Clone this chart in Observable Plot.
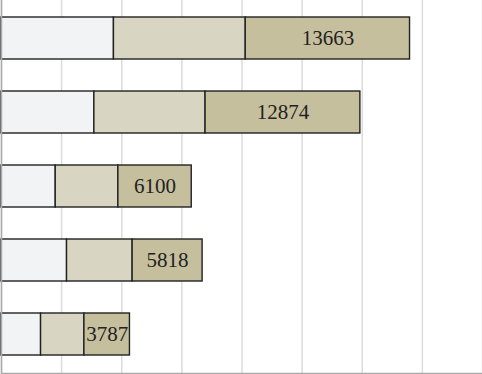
<!DOCTYPE html>
<html>
<head>
<meta charset="utf-8">
<script src="https://cdn.jsdelivr.net/npm/d3@7"></script>
<script src="https://cdn.jsdelivr.net/npm/@observablehq/plot@0.6"></script>
<style>
  html, body { margin: 0; padding: 0; background: #fff; overflow: hidden; }
  svg { display: block; }
</style>
</head>
<body>
<div id="chart"></div>
<script>
const categories = ["Group 1", "Group 2", "Group 3", "Group 4", "Group 5"];
const seriesNames = ["Part 1", "Part 2", "Part 3"];
const part1 = [9350, 7725, 4510, 5450, 3290];
const part2 = [10960, 9245, 5210, 5455, 3605];
const part3 = [13663, 12874, 6100, 5818, 3787];
const xTicks = [0, 5000, 10000, 15000, 20000, 25000, 30000, 35000, 40000];
const colors = ["#f2f3f5", "#d8d6c2", "#c6bf9e"];

const seriesValues = [part1, part2, part3];
const data = [];
categories.forEach((c, i) => {
  seriesNames.forEach((s, j) => {
    data.push({cat: c, series: s, value: seriesValues[j][i]});
  });
});
const lastSeries = seriesNames[seriesNames.length - 1];

const chart = Plot.plot({
  width: 482,
  height: 374,
  marginTop: 0,
  marginLeft: 1,
  marginRight: 0,
  marginBottom: 1,
  x: {domain: [0, 40000], axis: null},
  y: {domain: categories, axis: null, paddingInner: 0.43, paddingOuter: 0.215},
  color: {domain: seriesNames, range: colors},
  marks: [
    Plot.gridX(xTicks, {stroke: "#dcdcdc", strokeOpacity: 1, strokeWidth: 1.5}),
    Plot.barX(data, {x: "value", y: "cat", fill: "series", stroke: "#222", strokeWidth: 1.4, inset: 0}),
    Plot.text(data, Plot.stackX({
      x: "value", y: "cat",
      text: d => d.series === lastSeries ? String(d.value) : null,
      fontFamily: "Liberation Serif", fontSize: 21, fill: "#222"
    })),
    Plot.ruleX([0], {stroke: "#aaa", strokeWidth: 1.5}),
    Plot.frame({anchor: "bottom", stroke: "#aaa", strokeWidth: 1.5})
  ]
});
document.getElementById("chart").appendChild(chart);
</script>
</body>
</html>
